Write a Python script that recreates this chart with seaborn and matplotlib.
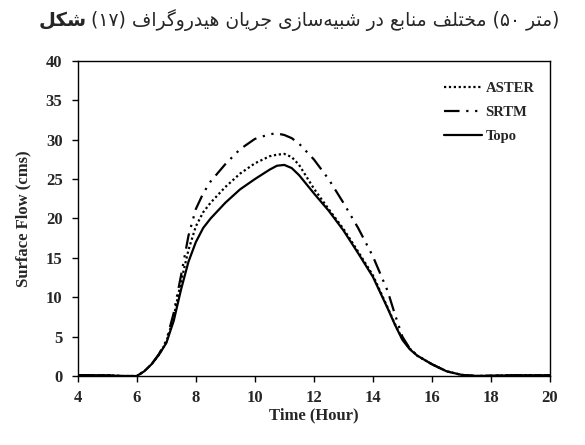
import matplotlib
matplotlib.use("Agg")
import matplotlib.pyplot as plt
import pandas as pd
import seaborn as sns

# hydrograph values
hours = [4, 5, 5.5, 6, 6.25, 6.5, 6.75, 7, 7.25, 7.5, 7.75, 8, 8.25, 8.5, 9, 9.5,
         10, 10.5, 10.75, 11, 11.25, 11.5, 12, 12.5, 13, 13.5, 14, 14.5, 14.75,
         15, 15.25, 15.5, 16, 16.5, 17, 17.5, 18, 19, 20]
topo = [0.1, 0.1, 0.0, 0.0, 0.6, 1.5, 2.7, 4.2, 7.0, 11.0, 14.5, 17.0, 18.8, 20.0,
        22.0, 23.7, 25.0, 26.2, 26.7, 26.8, 26.4, 25.5, 23.2, 21.0, 18.5, 15.6,
        12.6, 8.6, 6.5, 4.6, 3.4, 2.6, 1.5, 0.6, 0.15, 0.0, 0.05, 0.1, 0.1]
aster = [0.1, 0.1, 0.0, 0.0, 0.6, 1.5, 2.7, 4.3, 7.5, 12.0, 16.0, 19.0, 20.8, 22.0,
         24.0, 25.7, 27.0, 27.9, 28.1, 28.2, 27.8, 26.8, 23.8, 21.2, 18.7, 15.8,
         12.8, 8.7, 6.6, 4.7, 3.5, 2.6, 1.5, 0.6, 0.15, 0.0, 0.05, 0.1, 0.1]
srtm = [0.1, 0.1, 0.0, 0.0, 0.6, 1.5, 2.8, 4.5, 8.0, 12.8, 17.8, 21.2, 23.2, 24.7,
        26.9, 28.8, 30.1, 30.7, 30.8, 30.6, 30.2, 29.5, 27.5, 25.0, 22.0, 18.8,
        15.2, 10.8, 7.8, 5.0, 3.5, 2.6, 1.5, 0.6, 0.15, 0.0, 0.05, 0.1, 0.1]
series = ["ASTER", "SRTM", "Topo"]

title_bold = "شکل"
title_rest = "(۱۷) هیدروگراف جریان شبیه\u200cسازی در منابع مختلف (۵۰ متر)"

# matplotlib does no Arabic-script shaping, so pick the joined glyph forms here
FORMS = {  # isolated, final, initial, medial
    "ا": (0xFE8D, 0xFE8E), "د": (0xFEA9, 0xFEAA), "ر": (0xFEAD, 0xFEAE),
    "ز": (0xFEAF, 0xFEB0), "و": (0xFEED, 0xFEEE),
    "ب": (0xFE8F, 0xFE90, 0xFE91, 0xFE92), "ت": (0xFE95, 0xFE96, 0xFE97, 0xFE98),
    "ج": (0xFE9D, 0xFE9E, 0xFE9F, 0xFEA0), "خ": (0xFEA5, 0xFEA6, 0xFEA7, 0xFEA8),
    "س": (0xFEB1, 0xFEB2, 0xFEB3, 0xFEB4), "ش": (0xFEB5, 0xFEB6, 0xFEB7, 0xFEB8),
    "ع": (0xFEC9, 0xFECA, 0xFECB, 0xFECC), "ف": (0xFED1, 0xFED2, 0xFED3, 0xFED4),
    "ل": (0xFEDD, 0xFEDE, 0xFEDF, 0xFEE0), "م": (0xFEE1, 0xFEE2, 0xFEE3, 0xFEE4),
    "ن": (0xFEE5, 0xFEE6, 0xFEE7, 0xFEE8), "ه": (0xFEE9, 0xFEEA, 0xFEEB, 0xFEEC),
    "ک": (0xFB8E, 0xFB8F, 0xFB90, 0xFB91), "گ": (0xFB92, 0xFB93, 0xFB94, 0xFB95),
    "ی": (0xFBFC, 0xFBFD, 0xFBFE, 0xFBFF),
}


def shape_word(word):
    out = []
    for i, ch in enumerate(word):
        if ch not in FORMS:
            if ch != "\u200c":
                out.append(ch)
            continue
        prev = word[i - 1] if i > 0 else ""
        nxt = word[i + 1] if i + 1 < len(word) else ""
        joins_prev = prev in FORMS and len(FORMS[prev]) == 4
        joins_next = len(FORMS[ch]) == 4 and nxt in FORMS
        f = FORMS[ch]
        if joins_prev and joins_next:
            out.append(chr(f[3]))
        elif joins_next:
            out.append(chr(f[2]))
        elif joins_prev:
            out.append(chr(f[1]))
        else:
            out.append(chr(f[0]))
    return out


def visual(text):
    # words stay left-to-right as in the figure, letters run right-to-left
    res = []
    for word in text.split(" "):
        lead = ""
        tail = ""
        while word and word[0] in "()":
            lead += word[0]
            word = word[1:]
        while word and word[-1] in "()":
            tail = word[-1] + tail
            word = word[:-1]
        if any(c in FORMS for c in word):
            word = "".join(reversed(shape_word(word)))
        res.append(lead + word + tail)
    return " ".join(res)


df = pd.DataFrame({
    "hour": hours * 3,
    "flow": aster + srtm + topo,
    "src": ["ASTER"] * len(hours) + ["SRTM"] * len(hours) + ["Topo"] * len(hours),
})

sns.set_style("ticks")
plt.rcParams["font.family"] = ["Liberation Serif", "DejaVu Sans"]

fig = plt.figure(figsize=(5.85, 4.45), dpi=100)
ax = fig.add_axes([0.133, 0.155, 0.807, 0.708])

sns.lineplot(data=df, x="hour", y="flow", hue="src", style="src",
             hue_order=series, style_order=series,
             palette={"ASTER": "black", "SRTM": "black", "Topo": "black"},
             dashes={"ASTER": (1, 1.2), "SRTM": (7, 3, 1, 3, 1, 3), "Topo": ""},
             linewidth=1.6, ax=ax)

ax.set_xlim(4, 20)
ax.set_ylim(0, 40)
ax.set_xticks(range(4, 21, 2))
ax.set_yticks(range(0, 41, 5))
for lab in ax.get_xticklabels() + ax.get_yticklabels():
    lab.set_fontweight("bold")
    lab.set_fontsize(12)
ax.tick_params(direction="out", length=4, width=1, color="black")
ax.tick_params(axis="x", pad=6)
ax.tick_params(axis="y", pad=7)
ax.set_xlabel("Time (Hour)", fontsize=12, fontweight="bold", labelpad=1)
ax.set_ylabel("Surface Flow (cms)", fontsize=12, fontweight="bold", labelpad=10)
for s in ax.spines.values():
    s.set_visible(True)
    s.set_color("black")
    s.set_linewidth(1)

leg = ax.legend(loc="upper right", bbox_to_anchor=(0.995, 0.975), frameon=False,
                prop={"family": "Liberation Serif", "weight": "bold", "size": 10.5},
                handlelength=2.6, handletextpad=0.25, labelspacing=0.75)
for h in leg.get_lines():
    h.set_linewidth(1.6)

fig.text(0.148, 0.955, visual(title_bold), fontsize=14, fontweight="bold",
         family="DejaVu Sans", ha="right", va="center")
fig.text(0.156, 0.955, visual(title_rest), fontsize=13.5,
         family="DejaVu Sans", ha="left", va="center")

fig.savefig("out.png", dpi=100)
